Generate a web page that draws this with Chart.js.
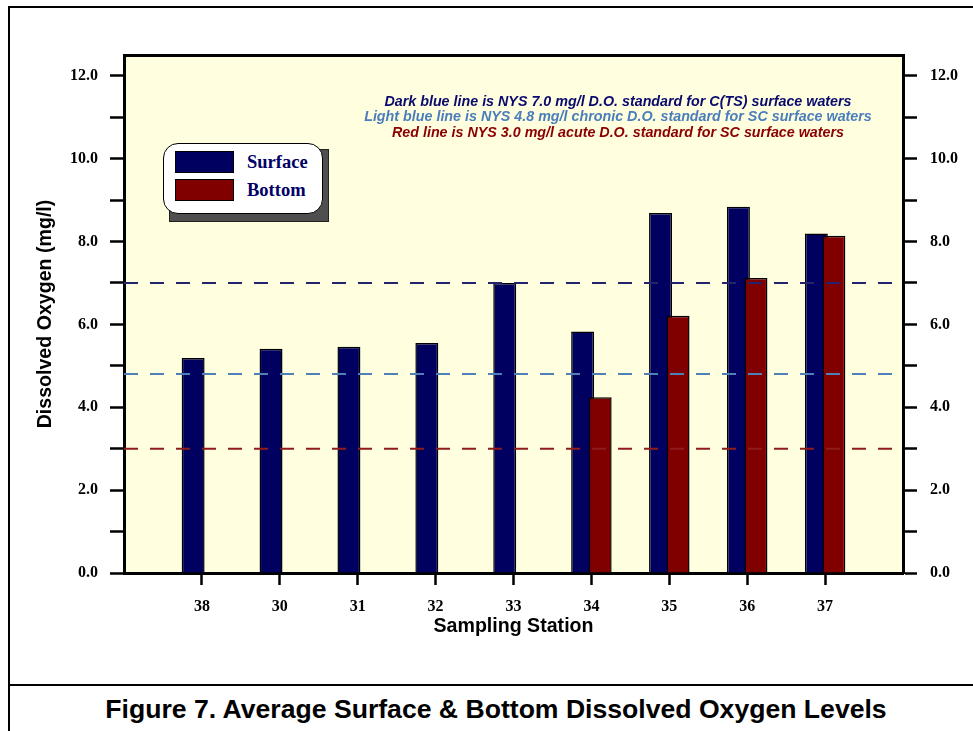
<!DOCTYPE html>
<html>
<head>
<meta charset="utf-8">
<script src="https://cdn.jsdelivr.net/npm/chart.js@4/dist/chart.umd.min.js"></script>
<style>
  html, body { margin: 0; padding: 0; background: #fff; }
  body { width: 973px; height: 731px; position: relative; overflow: hidden; }
  #c { position: absolute; left: 0; top: 0; }
  .frame { position: absolute; left: 8px; top: 6px; width: 990px; height: 760px;
           border-left: 2.5px solid #000; border-top: 2.5px solid #000; }
  .hline { position: absolute; left: 8px; top: 684px; width: 980px; border-top: 2.5px solid #000; }
  .title { position: absolute; left: 496px; top: 694px; transform: translateX(-50%);
           font: bold 26.6px "Liberation Sans", Arial, sans-serif; line-height: 30px; white-space: nowrap; color: #000; }
  .note { position: absolute; left: 618px; transform: translateX(-50%); white-space: nowrap;
          font: italic bold 14.3px "Liberation Sans", Arial, sans-serif; line-height: 16px; }
  .lgshadow { position: absolute; left: 169px; top: 149px; width: 160px; height: 73px; background: #4f4f4f; border: 1px solid #222; box-sizing: border-box; }
  .lgbox { position: absolute; left: 163px; top: 143px; width: 160px; height: 71px; background: #fff;
           border: 1.5px solid #000; border-radius: 15px; box-sizing: border-box; }
  .sw { position: absolute; left: 175px; width: 59px; height: 22px; border: 1px solid #000; box-sizing: border-box; }
  .lt { position: absolute; left: 247px; font: bold 18.5px "Liberation Serif", "Times New Roman", serif;
        color: #000066; line-height: 22px; white-space: nowrap; }
</style>
</head>
<body>
<div class="frame"></div>
<div class="hline"></div>
<canvas id="c" width="973" height="685"></canvas>

<div class="note" id="n1" style="top:93px;color:#0a0a6e;"></div>
<div class="note" id="n2" style="top:108px;color:#4a7ebb;"></div>
<div class="note" id="n3" style="top:124px;color:#8b0000;"></div>

<div class="lgshadow"></div>
<div class="lgbox"></div>
<div class="sw" id="sw1" style="top:151px;"></div>
<div class="sw" id="sw2" style="top:179px;"></div>
<div class="lt" id="lt1" style="top:151px;"></div>
<div class="lt" id="lt2" style="top:179px;"></div>

<div class="title" id="title"></div>

<script>
// ---- data ----
const stations = ['38', '30', '31', '32', '33', '34', '35', '36', '37'];
const surfaceDO = [5.19, 5.41, 5.46, 5.55, 7.00, 5.83, 8.69, 8.84, 8.19];
const bottomDO  = [null, null, null, null, null, 4.24, 6.21, 7.12, 8.14];
const seriesNames = ['Surface', 'Bottom'];
const seriesColors = ['#000060', '#800000'];
const standardValues = [7.0, 4.8, 3.0];
const standardColors = ['#23236e', '#4f80b8', '#8e1c1c'];
const standardNotes = [
  'Dark blue line is NYS 7.0 mg/l D.O. standard for C(TS) surface waters',
  'Light blue line is NYS 4.8 mg/l chronic D.O. standard for SC surface waters',
  'Red line is NYS 3.0 mg/l acute D.O. standard for SC surface waters'
];
const yTickValues = [0, 2, 4, 6, 8, 10, 12];
const chartTitle = 'Figure 7. Average Surface & Bottom Dissolved Oxygen Levels';
const xAxisTitle = 'Sampling Station';
const yAxisTitle = 'Dissolved Oxygen (mg/l)';

// ---- text overlays ----
document.getElementById('n1').textContent = standardNotes[0];
document.getElementById('n2').textContent = standardNotes[1];
document.getElementById('n3').textContent = standardNotes[2];
document.getElementById('lt1').textContent = seriesNames[0];
document.getElementById('lt2').textContent = seriesNames[1];
document.getElementById('sw1').style.background = seriesColors[0];
document.getElementById('sw2').style.background = seriesColors[1];
document.getElementById('title').textContent = chartTitle;

// padded labels so stations sit one slot in from each side
const labels = [''].concat(stations, ['']);
const pad = arr => [null].concat(arr, [null]);
const nEdge = labels.length - 1;

const tickFont = { family: '"Liberation Serif", "Times New Roman", serif', size: 16, weight: 'bold' };
const titleFont = { family: '"Liberation Sans", Arial, sans-serif', size: 19.6, weight: 'bold' };

const plotBg = {
  id: 'plotBg',
  beforeDraw(chart) {
    const { ctx, chartArea: a } = chart;
    ctx.save();
    ctx.fillStyle = '#FFFFE0';
    ctx.fillRect(a.left, a.top, a.right - a.left, a.bottom - a.top);
    ctx.restore();
  }
};

const barCommon = {
  type: 'bar',
  borderColor: '#000',
  borderWidth: 1.5,
  categoryPercentage: 0.45,
  barPercentage: 1.31,
  xAxisID: 'x'
};

// Surface sits in the left slot ('S'), Bottom in the right slot ('B') and is drawn over Surface.
const datasets = [
  Object.assign({}, barCommon, { label: seriesNames[0], data: pad(surfaceDO), backgroundColor: seriesColors[0], stack: 'S', order: 2 }),
  Object.assign({}, barCommon, { label: seriesNames[1], data: pad(bottomDO), backgroundColor: seriesColors[1], stack: 'B', order: 1 }),
  Object.assign({}, barCommon, { label: '_slot', data: labels.map(() => null), backgroundColor: 'rgba(0,0,0,0)', borderWidth: 0, stack: 'S', order: 0.5 })
];
standardValues.forEach((v, i) => {
  datasets.push({
    type: 'line',
    label: 'std' + v,
    data: labels.map(() => v),
    borderColor: standardColors[i],
    borderWidth: 2,
    borderDash: [14, 12],
    pointRadius: 0,
    fill: false,
    xAxisID: 'x',
    order: 0
  });
});

function yAxis(position) {
  return {
    type: 'linear',
    position: position,
    min: 0,
    max: 12.5,
    stacked: false,
    afterBuildTicks: s => { s.ticks = s.ticks.filter(t => Number.isInteger(t.value)); },
    afterFit: s => { s.width = position === 'left' ? 124 : 70; },
    ticks: {
      stepSize: 1,
      color: '#000',
      font: tickFont,
      padding: position === 'left' ? 12 : 13,
      callback: v => yTickValues.includes(v) ? v.toFixed(1) : ''
    },
    grid: { display: true, drawOnChartArea: false, drawTicks: true, tickLength: 14, tickWidth: 2.5, tickColor: '#000' },
    border: { display: true, width: 3, color: '#000' },
    title: position === 'left'
      ? { display: true, text: yAxisTitle, color: '#000', font: titleFont, padding: { top: 34, bottom: 0 } }
      : { display: false }
  };
}

new Chart(document.getElementById('c'), {
  type: 'bar',
  data: { labels: labels, datasets: datasets },
  plugins: [plotBg],
  options: {
    responsive: false,
    animation: false,
    events: [],
    layout: { padding: { left: 0, right: 0, top: 55, bottom: 32 } },
    plugins: { legend: { display: false }, tooltip: { enabled: false }, title: { display: false } },
    scales: {
      x: {
        type: 'category',
        position: 'bottom',
        offset: false,
        afterFit: s => { s.height = 80; },
        ticks: { color: '#000', font: tickFont, padding: 12, autoSkip: false, maxRotation: 0,
                 callback: (v, i) => labels[i] },
        grid: { display: true, offset: false, drawOnChartArea: false, drawTicks: true, tickLength: 12, tickWidth: 2.5,
                tickColor: c => (c.index === 0 || c.index === nEdge) ? 'rgba(0,0,0,0)' : '#000' },
        border: { display: true, width: 3, color: '#000' },
        title: { display: true, text: xAxisTitle, color: '#000', font: titleFont, padding: { top: 0, bottom: 15 } }
      },
      xt: {
        type: 'category',
        position: 'top',
        offset: false,
        ticks: { display: false },
        grid: { display: true, offset: false, drawOnChartArea: false, drawTicks: false },
        border: { display: true, width: 3, color: '#000' }
      },
      y: yAxis('left'),
      y2: yAxis('right')
    }
  }
});
</script>
</body>
</html>
